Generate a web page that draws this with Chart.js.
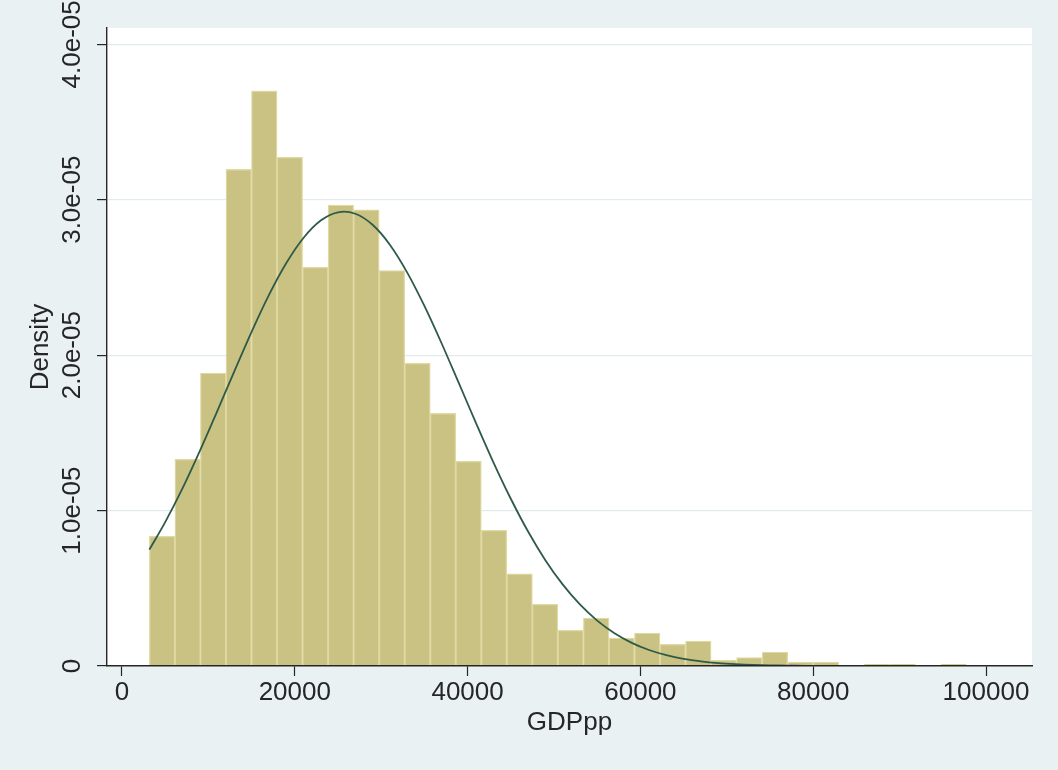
<!DOCTYPE html>
<html lang="en">
<head>
  <meta charset="UTF-8" />
  <title>GDPpp histogram</title>
  <script src="https://cdn.jsdelivr.net/npm/chart.js"></script>
  <style>
    body{margin:0;padding:0;background:#e9f1f3}
    canvas{display:block}
  </style>
</head>
<body>
<canvas id="hist" width="1058" height="770"></canvas>

<script>
// --- 1. Data (density values are in units of 1e-5) ----------------------
// histogram bins: midpoints of the 34 bins (width ~2955)
const binMid=[4647,7602,10557,13512,16467,19422,22377,25332,28287,31242,
  34197,37152,40107,43062,46017,48972,51927,54882,57837,60792,
  63747,66702,69657,72612,75567,78522,81477,84432,87387,90342,
  93297,96252,99207,102162];
const binDensity=[0.835,1.33,1.885,3.195,3.70,3.273,2.565,2.966,2.935,2.545,
  1.947,1.625,1.318,0.873,0.593,0.397,0.230,0.309,0.180,0.212,
  0.140,0.161,0.037,0.054,0.090,0.026,0.026,0.005,0.011,0.011,
  0.004,0.010,0.005,0.005];

// normal density overlay
const curveX=[3169,5000,7000,9000,11000,13000,15000,17000,19000,21000,
  23000,25000,27000,29000,31000,33000,35000,37000,39000,41000,
  43000,45000,47000,49000,51000,53000,55000,57000,59000,61000,
  63000,65000,67000,69000,71000,73000,75000,77000,79000,81000,
  85000,90000,95000,100000,103639];
const curveY=[0.749,0.926,1.143,1.383,1.637,1.896,2.150,2.386,2.591,2.754,
  2.866,2.919,2.910,2.839,2.711,2.533,2.317,2.075,1.818,1.560,
  1.309,1.076,0.865,0.681,0.525,0.396,0.292,0.211,0.149,0.103,
  0.070,0.046,0.030,0.019,0.012,0.007,0.004,0.0025,0.0014,0.0008,
  0.0002,0,0,0,0];

// axes
const xTicks=[0,20000,40000,60000,80000,100000];
const xTickLabels=['0','20000','40000','60000','80000','100000'];
const yTicks=[0,1,2,3,4];
const yTickLabels=['0','1.0e-05','2.0e-05','3.0e-05','4.0e-05'];
const xTitle='GDPpp';
const yTitle='Density';

// --- 2. Look --------------------------------------------------------------
const outerBg='#e9f1f3';
const barFill='#c9c283';
const barEdge='#e0d9a2';
const lineCol='#2f5a48';
const gridCol='#e1ebed';
const axisCol='#262626';
const font={family:"'Liberation Sans', Arial, sans-serif",size:26};

const bgPlugin={
  id:'bg',
  beforeDraw(chart){
    const {ctx,chartArea:a}=chart;
    ctx.save();
    ctx.fillStyle=outerBg;
    ctx.fillRect(0,0,chart.width,chart.height);
    ctx.fillStyle='#ffffff';
    ctx.fillRect(a.left,a.top,a.right-a.left,a.bottom-a.top);
    ctx.restore();
  }
};

// --- 3. Chart -------------------------------------------------------------
new Chart(document.getElementById('hist'),{
  type:'bar',
  data:{
    datasets:[
      {type:'line',data:curveX.map((x,i)=>({x:x,y:curveY[i]})),
       borderColor:lineCol,borderWidth:1.8,pointRadius:0,tension:0.3,fill:false,order:0},
      {type:'bar',data:binMid.map((x,i)=>({x:x,y:binDensity[i]})),
       backgroundColor:barFill,borderColor:barEdge,borderWidth:1.3,
       barPercentage:1,categoryPercentage:1,order:1}
    ]
  },
  options:{
    responsive:false,
    animation:false,
    layout:{padding:{top:28,right:26,left:0,bottom:0}},
    plugins:{legend:{display:false},tooltip:{enabled:false}},
    scales:{
      x:{
        type:'linear',offset:false,min:-1736,max:105324,
        afterBuildTicks:s=>{s.ticks=xTicks.map(v=>({value:v}));},
        afterFit:s=>{s.height=104;},
        grid:{drawOnChartArea:false,offset:false,tickLength:10,tickColor:axisCol,tickWidth:1.2},
        border:{color:axisCol,width:1.4,z:1},
        ticks:{font:font,color:axisCol,padding:1,maxRotation:0,
          callback:(v,i)=>xTickLabels[i]},
        title:{display:true,text:xTitle,font:font,color:axisCol,padding:{top:0,bottom:32}}
      },
      y:{
        type:'linear',min:0,max:4.105,
        afterBuildTicks:s=>{s.ticks=yTicks.map(v=>({value:v}));},
        afterFit:s=>{s.width=107;},
        grid:{color:c=>c.tick&&c.tick.value===0?'rgba(0,0,0,0)':gridCol,lineWidth:1.2,
          tickLength:10,tickColor:axisCol,tickWidth:1.2},
        border:{color:axisCol,width:1.4},
        ticks:{font:font,color:axisCol,minRotation:90,maxRotation:90,crossAlign:'center',padding:-20,
          callback:(v,i)=>yTickLabels[i]},
        title:{display:true,text:yTitle,font:font,color:axisCol,padding:{top:25,bottom:0}}
      }
    }
  },
  plugins:[bgPlugin]
});
</script>
</body>
</html>
